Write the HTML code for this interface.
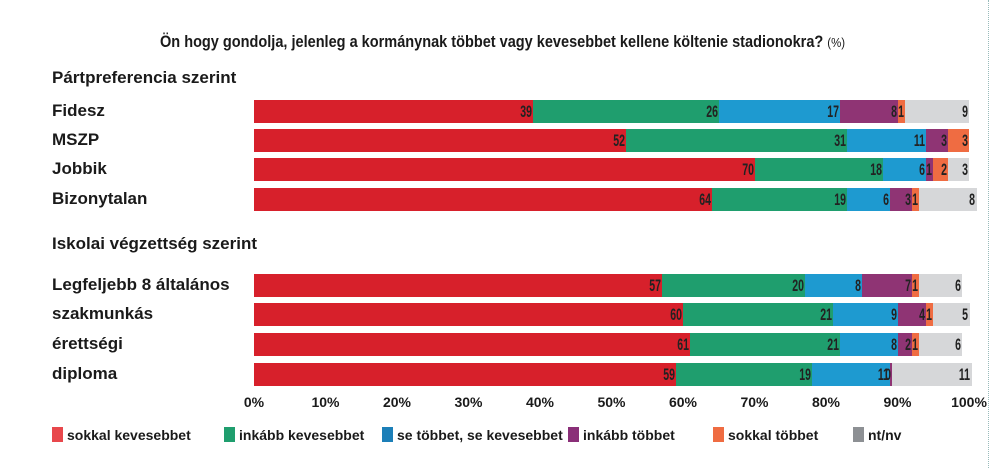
<!DOCTYPE html>
<html><head><meta charset="utf-8"><style>
body{margin:0;width:1000px;height:468px;background:#fff;position:relative;overflow:hidden;font-family:"Liberation Sans Narrow","Liberation Sans",sans-serif;font-weight:bold;color:#1a1a1a}
.a{position:absolute;white-space:nowrap}
.lab{font-size:17px;left:52px}
.seg{position:absolute;height:23px}
.v{position:absolute;font-size:17px;line-height:23px;text-align:right;color:#222;transform:scaleX(0.62);transform-origin:right center}
.t{font-size:14px;top:394px;width:50px;text-align:center}
.lg{font-size:14px;top:427px}
.sq{position:absolute;width:11px;height:15px;top:427px}
</style></head><body>
<div class="a" style="left:160px;top:33px;font-size:16.5px;transform:scaleX(0.88);transform-origin:left center">Ön hogy gondolja, jelenleg a kormánynak többet vagy kevesebbet kellene költenie stadionokra? <span style="font-weight:normal;font-size:13px">(%)</span></div>
<div class="a lab" style="top:68px">Pártpreferencia szerint</div>
<div class="a lab" style="top:234px">Iskolai végzettség szerint</div>
<div class="a" style="left:988px;top:0;height:468px;border-left:1px dotted #9bb"></div>
<div id="c"></div>
<script>
var cols=["#d7202b","#1f9e6e","#1e9ad0","#8f3474","#ef6c42","#d6d7d9"];
var rows=[["Fidesz",100,[39,26,17,8,1,9]],["MSZP",129,[52,31,11,3,3,0]],["Jobbik",158,[70,18,6,1,2,3]],["Bizonytalan",188,[64,19,6,3,1,8]],
["Legfeljebb 8 általános",274,[57,20,8,7,1,6]],["szakmunkás",303,[60,21,9,4,1,5]],["érettségi",333,[61,21,8,2,1,6]],["diploma",363,[59,19,11,0.3,0,11]]];
var s=7.15,h="";
rows.forEach(function(r){
 h+='<div class="a lab" style="top:'+(r[1]+1)+'px">'+r[0]+'</div>';
 var x=254;
 r[2].forEach(function(v,i){
  if(v<=0&&!(r[0]=="diploma"&&i==3))return;
  var w=v*s;
  h+='<div class="seg" style="left:'+x+'px;top:'+r[1]+'px;width:'+(w+0.5)+'px;background:'+cols[i]+'"></div>';
  var lbl=(v<1?0:v);
  h+='<div class="v" style="left:'+(x+w-40-1)+'px;top:'+r[1]+'px;width:40px">'+lbl+'</div>';
  x+=w;
 });
});
for(var i=0;i<=10;i++){h+='<div class="a t" style="left:'+(254+i*71.5-25)+'px">'+(i*10)+'%</div>';}
var L=[["sokkal kevesebbet",52,"#e8474c"],["inkább kevesebbet",224,"#1f9e6e"],["se többet, se kevesebbet",382,"#1c7fb8"],["inkább többet",568,"#8a2f78"],["sokkal többet",713,"#ef6c42"],["nt/nv",853,"#8d9094"]];
L.forEach(function(l){h+='<div class="sq" style="left:'+l[1]+'px;background:'+l[2]+'"></div><div class="a lg" style="left:'+(l[1]+15)+'px">'+l[0]+'</div>';});
document.getElementById("c").innerHTML=h;
</script>
</body></html>
